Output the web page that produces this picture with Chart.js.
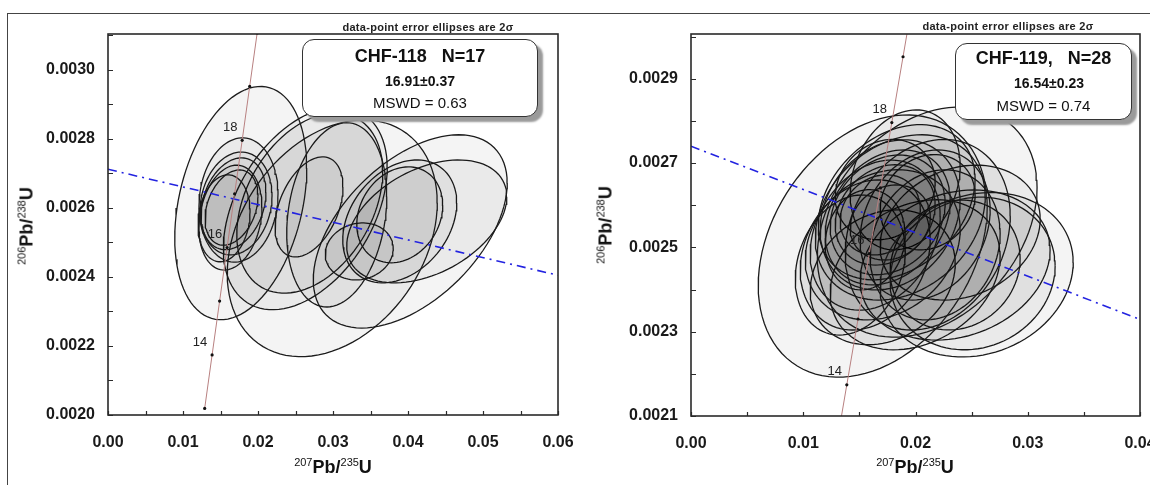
<!DOCTYPE html>
<html><head><meta charset="utf-8">
<script src="https://cdn.jsdelivr.net/npm/chart.js@4"></script>
<style>
body{margin:0;background:#fff;width:1150px;height:485px;overflow:hidden;position:relative;font-family:'Liberation Sans',Arial,sans-serif;}
canvas{position:absolute;top:0;}
#c1{left:0}#c2{left:575px}
.frameTop{position:absolute;left:7px;top:13px;width:1143px;height:0;border-top:1.5px solid #444}
.frameLeft{position:absolute;left:7px;top:13px;width:0;height:472px;border-left:1.5px solid #444}
.cap{position:absolute;font-size:11px;font-weight:bold;letter-spacing:0.3px;color:#222;transform:translate(-50%,-50%);white-space:nowrap}
.box{position:absolute;box-sizing:border-box;border:1.5px solid #333;border-radius:12px;background:#fff;box-shadow:5px 5px 2px #9a9a9a}
.ln{position:absolute;left:0;right:0;text-align:center;white-space:pre;color:#111}
.t1{font-size:18px;font-weight:bold;line-height:20px}
.t2{font-size:14px;font-weight:bold;line-height:16px}
.t3{font-size:15px;line-height:17px}
.xt,.yt{position:absolute;font-weight:bold;font-size:18px;color:#111;white-space:nowrap;transform:translate(-50%,-50%)}
.yt{transform:translate(-50%,-50%) rotate(-90deg)}
.sp{font-size:11px;font-weight:normal;position:relative;top:-7px}
</style>
</head>
<body>
<canvas id="c1" width="575" height="485"></canvas>
<canvas id="c2" width="575" height="485"></canvas>
<div class="frameTop"></div><div class="frameLeft"></div>

<div class="cap" style="left:428px;top:27px">data-point error ellipses are 2σ</div>
<div class="cap" style="left:1008px;top:26px">data-point error ellipses are 2σ</div>

<div class="box" style="left:302px;top:39px;width:236px;height:78px">
  <div class="ln t1" style="top:6px">CHF-118   N=17</div>
  <div class="ln t2" style="top:33px">16.91±0.37</div>
  <div class="ln t3" style="top:54px">MSWD = 0.63</div>
</div>
<div class="box" style="left:955px;top:43px;width:177px;height:77px">
  <div class="ln t1" style="top:4px">CHF-119,   N=28</div>
  <div class="ln t2" style="top:31px;padding-left:11px">16.54±0.23</div>
  <div class="ln t3" style="top:53px">MSWD = 0.74</div>
</div>

<div class="xt" style="left:333px;top:467px"><span class="sp">207</span>Pb/<span class="sp">235</span>U</div>
<div class="xt" style="left:915px;top:467px"><span class="sp">207</span>Pb/<span class="sp">235</span>U</div>
<div class="yt" style="left:27px;top:226px"><span class="sp">206</span>Pb/<span class="sp">238</span>U</div>
<div class="yt" style="left:606px;top:225px"><span class="sp">206</span>Pb/<span class="sp">238</span>U</div>

<script>
// ---------- Concordia (shared) ----------
const ages      = [13, 14, 15, 16, 17, 18, 19, 20];
const concX     = [0.01289, 0.01388, 0.01488, 0.01588, 0.01688, 0.01789, 0.01889, 0.01989];
const concY     = [0.002019, 0.002174, 0.002330, 0.002485, 0.002641, 0.002796, 0.002952, 0.003107];
const labelAges = [14, 16, 18];

// ---------- CHF-118 (left) ----------
const L_xTicks = [0.00, 0.01, 0.02, 0.03, 0.04, 0.05, 0.06];
const L_yTicks = [0.0020, 0.0022, 0.0024, 0.0026, 0.0028, 0.0030];
const L_x   = [0.0174, 0.01707, 0.01673, 0.01633, 0.01647, 0.01547, 0.0177, 0.0299, 0.0305, 0.0268, 0.0263, 0.0269, 0.0403, 0.0425, 0.0335, 0.0389, 0.0389];
const L_ex  = [0.00527, 0.0048, 0.00433, 0.0042, 0.00353, 0.00347, 0.0088, 0.014, 0.00667, 0.00453, 0.01093, 0.00973, 0.01293, 0.01067, 0.00453, 0.0076, 0.00573];
const L_y   = [0.002623, 0.002613, 0.002612, 0.002572, 0.002601, 0.00257, 0.002614, 0.002512, 0.00258, 0.002603, 0.002599, 0.002614, 0.002532, 0.002561, 0.002474, 0.002561, 0.00258];
const L_ey  = [0.00018, 0.000149, 0.000133, 0.000152, 0.000109, 0.000126, 0.000338, 0.000343, 0.000267, 0.000145, 0.000294, 0.000261, 0.00028, 0.000178, 0.0000826, 0.000178, 0.000139];
const L_rho = [0.1, 0.15, 0.25, 0.2, 0.3, 0.15, 0.3, 0.3, 0.2, 0.4, 0.4, 0.35, 0.5, 0.4, 0.1, 0.3, 0.2];
const L_discX = [0, 0.06];
const L_discY = [0.002712, 0.002405];

// ---------- CHF-119 (right) ----------
const R_xTicks = [0.00, 0.01, 0.02, 0.03, 0.04];
const R_yTicks = [0.0021, 0.0023, 0.0025, 0.0027, 0.0029];
const R_x   = [0.01619, 0.02104, 0.02545, 0.02509, 0.01864, 0.01774, 0.01753, 0.01752, 0.0173, 0.01686, 0.01775, 0.01641, 0.01708, 0.01832, 0.02086, 0.02175, 0.02109, 0.01552, 0.01552, 0.02398, 0.02353, 0.02353, 0.01419, 0.01997, 0.01708, 0.01908, 0.0173, 0.02108];
const R_ex  = [0.0102, 0.00979, 0.0086, 0.00735, 0.00757, 0.00623, 0.00557, 0.00512, 0.00445, 0.00357, 0.00357, 0.00579, 0.0069, 0.00699, 0.00579, 0.00579, 0.00735, 0.00579, 0.00356, 0.00713, 0.00846, 0.00579, 0.0049, 0.00757, 0.00646, 0.0049, 0.00445, 0.00423];
const R_y   = [0.002503, 0.00256, 0.002435, 0.002438, 0.002571, 0.002577, 0.002571, 0.002577, 0.002577, 0.002577, 0.002559, 0.002529, 0.002506, 0.002607, 0.002553, 0.002506, 0.00253, 0.002482, 0.002518, 0.002535, 0.002458, 0.002458, 0.002458, 0.002435, 0.002429, 0.00266, 0.002637, 0.002607];
const R_ey  = [0.000311, 0.000273, 0.000195, 0.000181, 0.000196, 0.000178, 0.00016, 0.000142, 0.000119, 0.000095, 0.000089, 0.000178, 0.000178, 0.000184, 0.000178, 0.000178, 0.000226, 0.000178, 0.000119, 0.00016, 0.000178, 0.000154, 0.000166, 0.000178, 0.00016, 0.000166, 0.000119, 0.000113];
const R_rho = [0.3, 0.3, 0.15, 0.1, 0.25, 0.2, 0.25, 0.2, 0.2, 0.15, 0.15, 0.25, 0.2, 0.3, 0.2, 0.15, 0.2, 0.2, 0.1, 0.2, 0.2, 0.1, 0.2, 0.25, 0.2, 0.2, 0.15, 0.15];
const R_discX = [0, 0.04];
const R_discY = [0.00274, 0.002329];

// ---------- helpers ----------
function ellipse(cx, ex, cy, ey, rho, n) {
  const pts = [], s = Math.sqrt(1 - rho * rho);
  for (let i = 0; i <= n; i++) {
    const t = 2 * Math.PI * i / n;
    pts.push({x: cx + ex * Math.cos(t), y: cy + ey * (rho * Math.cos(t) + s * Math.sin(t))});
  }
  return pts;
}

const FONT = "'Liberation Sans', Arial, sans-serif";

const decor = {
  id: 'decor',
  afterDatasetsDraw(chart, args, o) {
    const {ctx, chartArea: a, scales: {x, y}} = chart;
    ctx.save();
    ctx.strokeStyle = '#2a2a2a';
    ctx.lineWidth = 1.2;
    ctx.beginPath();
    const nx = Math.round((x.max - x.min) / o.xStep);
    for (let i = 0; i <= nx; i++) {
      const p = Math.round(x.getPixelForValue(x.min + i * o.xStep)) + 0.5;
      ctx.moveTo(p, a.bottom); ctx.lineTo(p, a.bottom - 4);
    }
    const ny = Math.round((y.max - y.min) / o.yStep);
    for (let i = 0; i <= ny; i++) {
      const v = y.min + i * o.yStep;
      if (v > y.max) break;
      const p = Math.round(y.getPixelForValue(v)) + 0.5;
      ctx.moveTo(a.left, p); ctx.lineTo(a.left + 5, p);
    }
    ctx.stroke();
    ctx.lineWidth = 1.6;
    ctx.strokeRect(a.left, a.top, a.right - a.left, a.bottom - a.top);
    ctx.font = '13px ' + FONT;
    ctx.fillStyle = '#222';
    ctx.textAlign = 'center';
    ctx.textBaseline = 'middle';
    labelAges.forEach(age => {
      const i = ages.indexOf(age);
      ctx.fillText(String(age), x.getPixelForValue(concX[i]) - 12, y.getPixelForValue(concY[i]) - 13);
    });
    ctx.restore();
  }
};

function makeChart(id, d) {
  const ds = [];
  ds.push({
    data: ages.map((a, i) => ({x: concX[i], y: concY[i]})),
    showLine: true, borderColor: '#b88080', borderWidth: 1,
    pointRadius: 1.6, pointBackgroundColor: '#111', pointBorderWidth: 0,
    fill: false, order: 0
  });
  ds.push({
    data: d.discX.map((v, i) => ({x: v, y: d.discY[i]})),
    showLine: true, borderColor: '#2323e0', borderWidth: 1.6, borderDash: [9, 5, 2, 5],
    pointRadius: 0, fill: false, order: 1
  });
  d.ex.forEach((e, i) => {
    ds.push({
      data: ellipse(d.x[i], d.ex[i], d.y[i], d.ey[i], d.rho[i], 96),
      showLine: true, borderColor: '#1c1c1c', borderWidth: 1.3,
      backgroundColor: 'rgba(0,0,0,0.045)', fill: 'shape',
      pointRadius: 0, tension: 0, order: 2
    });
  });
  new Chart(document.getElementById(id), {
    type: 'scatter',
    data: {datasets: ds},
    options: {
      responsive: false, animation: false, devicePixelRatio: 1, events: [],
      layout: {padding: d.pad},
      plugins: {legend: {display: false}, tooltip: {enabled: false}, decor: {xStep: d.xStep, yStep: d.yStep}},
      scales: {
        x: {
          type: 'linear', min: d.xMin, max: d.xMax,
          afterBuildTicks: s => { s.ticks = d.xTicks.map(v => ({value: v})); },
          afterFit: s => { s.height = d.xH; s.paddingLeft = 0; s.paddingRight = 0; },
          grid: {display: false, drawTicks: false}, border: {display: false},
          ticks: {font: {family: FONT, size: 16, weight: 'bold'}, color: '#1a1a1a', padding: 18, maxRotation: 0, autoSkip: false,
                  callback: v => Number(v).toFixed(2)}
        },
        y: {
          type: 'linear', min: d.yMin, max: d.yMax,
          afterBuildTicks: s => { s.ticks = d.yTicks.map(v => ({value: v})); },
          afterFit: s => { s.width = d.yW; s.paddingTop = 0; s.paddingBottom = 0; },
          grid: {display: false, drawTicks: false}, border: {display: false},
          ticks: {font: {family: FONT, size: 16, weight: 'bold'}, color: '#1a1a1a', padding: 13, autoSkip: false,
                  callback: v => Number(v).toFixed(4)}
        }
      }
    },
    plugins: [decor]
  });
}

makeChart('c1', {
  x: L_x, ex: L_ex, y: L_y, ey: L_ey, rho: L_rho, discX: L_discX, discY: L_discY,
  xTicks: L_xTicks, yTicks: L_yTicks, xMin: 0, xMax: 0.06, yMin: 0.0020, yMax: 0.003104,
  xStep: 0.005, yStep: 0.0001, pad: {left: 0, top: 34, right: 17, bottom: 0}, yW: 108, xH: 70
});
makeChart('c2', {
  x: R_x, ex: R_ex, y: R_y, ey: R_ey, rho: R_rho, discX: R_discX, discY: R_discY,
  xTicks: R_xTicks, yTicks: R_yTicks, xMin: 0, xMax: 0.04, yMin: 0.0021, yMax: 0.003006,
  xStep: 0.005, yStep: 0.0001, pad: {left: 0, top: 34, right: 10, bottom: 0}, yW: 116, xH: 69
});
</script>
</body></html>
